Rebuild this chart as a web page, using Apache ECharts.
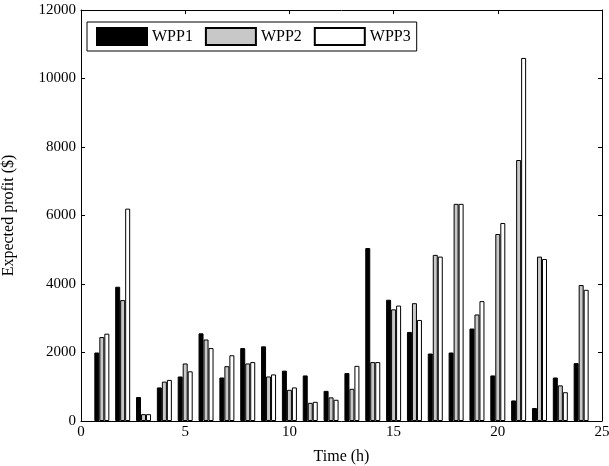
<!DOCTYPE html>
<html><head><meta charset="utf-8">
<script src="https://cdn.jsdelivr.net/npm/echarts@6/dist/echarts.min.js"></script>
<style>html,body{margin:0;padding:0;background:#fff}#c{width:609px;height:466px}</style>
</head><body><div id="c"></div>
<script>
const hours = [1,2,3,4,5,6,7,8,9,10,11,12,13,14,15,16,17,18,19,20,21,22,23,24];
const wpp1 = [2000,3920,700,980,1300,2560,1270,2130,2180,1470,1330,880,1400,5050,3540,2600,1970,2000,2700,1330,600,380,1270,1690];
const wpp2 = [2450,3530,200,1150,1680,2380,1600,1680,1300,910,530,690,940,1720,3260,3440,4850,6340,3110,5460,7620,4800,1040,3970];
const wpp3 = [2550,6200,200,1200,1450,2130,1920,1720,1360,980,560,620,1610,1720,3370,2950,4800,6340,3500,5780,10600,4730,840,3830];
const seriesNames = ['WPP1','WPP2','WPP3'];
const seriesColors = ['#000000','#c8c8c8','#ffffff'];
const font = 'Liberation Serif, Times New Roman, serif';

const chart = echarts.init(document.getElementById('c'));
const mk = (name, vals, color) => ({
  name, type:'bar', xAxisIndex:0, yAxisIndex:0,
  data: hours.map((h,i)=>[h, vals[i]]),
  barWidth:5, barGap:'0%',
  itemStyle:{color, borderColor:'#000', borderWidth:1},
  emphasis:{disabled:true}
});
const axisCommon = {
  axisLine:{show:true,onZero:false,lineStyle:{color:'#000',width:1}},
  axisTick:{show:true,inside:true,length:4,lineStyle:{color:'#000'}},
  splitLine:{show:false}
};
chart.setOption({
  animation:false,
  grid:{left:81,right:7,top:10,bottom:45,containLabel:false,outerBoundsMode:'none'},
  legend:{
    left:87, top:22, itemWidth:50, itemHeight:17, itemGap:12,
    padding:[5,6,5,9],
    borderColor:'#000', borderWidth:1, backgroundColor:'#fff',
    textStyle:{fontFamily:font,fontSize:16,color:'#000'},
    icon:'rect',
    data: seriesNames
  },
  xAxis:[
    Object.assign({type:'value',min:0,max:25,interval:5,position:'bottom',
      name:'Time (h)',nameLocation:'middle',nameGap:28,
      nameTextStyle:{fontFamily:font,fontSize:16,color:'#000'},
      axisLabel:{fontFamily:font,fontSize:15,color:'#000',margin:4}},axisCommon),
    Object.assign({type:'value',min:0,max:25,interval:5,position:'top',
      axisLabel:{show:false}},axisCommon)
  ],
  yAxis:[
    Object.assign({type:'value',min:0,max:12000,interval:2000,position:'left',
      name:'Expected profit ($)',nameLocation:'middle',nameGap:64,
      nameTextStyle:{fontFamily:font,fontSize:16,color:'#000'},
      axisLabel:{fontFamily:font,fontSize:15,color:'#000',margin:5,formatter:v=>String(v)}},axisCommon),
    Object.assign({type:'value',min:0,max:12000,interval:2000,position:'right',
      axisLabel:{show:false}},axisCommon)
  ],
  series:[
    mk(seriesNames[0], wpp1, seriesColors[0]),
    mk(seriesNames[1], wpp2, seriesColors[1]),
    mk(seriesNames[2], wpp3, seriesColors[2])
  ]
});
</script></body></html>
